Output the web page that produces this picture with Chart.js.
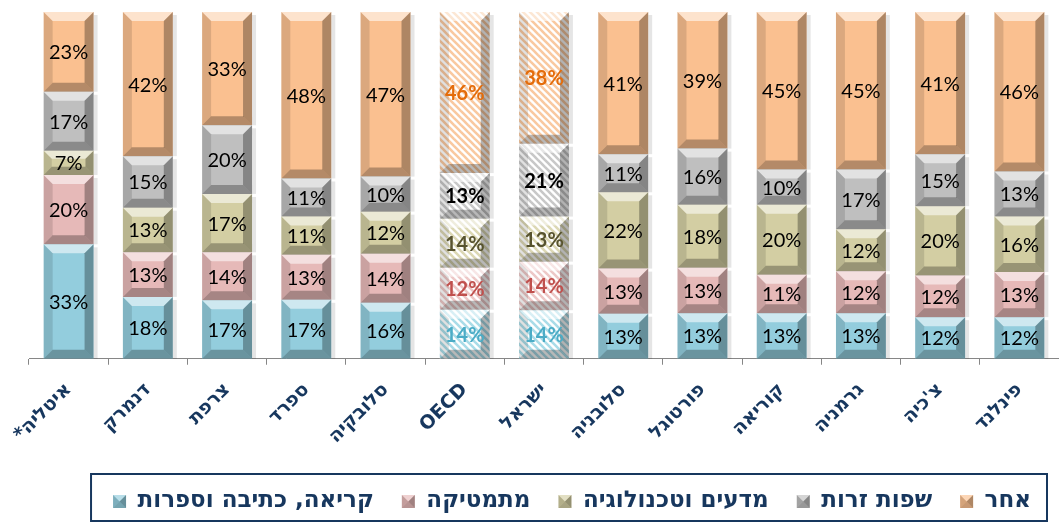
<!DOCTYPE html>
<html>
<head>
<meta charset="utf-8">
<style>
  html, body { margin: 0; padding: 0; background: #ffffff; }
</style>
<script src="https://cdn.jsdelivr.net/npm/chart.js"></script>
</head>
<body>
<canvas id="chart" width="1059" height="523"></canvas>
<script>
// categories, left to right
var countries = ['איטליה*', 'דנמרק', 'צרפת', 'ספרד', 'סלובקיה', 'OECD', 'ישראל',
                 'סלובניה', 'פורטוגל', 'קוריאה', 'גרמניה', "צ'כיה", 'פינלנד'];
var seriesNames = ['קריאה, כתיבה וספרות', 'מתמטיקה', 'מדעים וטכנולוגיה', 'שפות זרות', 'אחר'];

// percent values, bottom segment to top segment
var reading   = [33, 18, 17, 17, 16, 14, 14, 13, 13, 13, 13, 12, 12];
var maths     = [20, 13, 14, 13, 14, 12, 14, 13, 13, 11, 12, 12, 13];
var science   = [7, 13, 17, 11, 12, 14, 13, 22, 18, 20, 12, 20, 16];
var languages = [17, 15, 20, 11, 10, 13, 21, 11, 16, 10, 17, 15, 13];
var other     = [23, 42, 33, 48, 47, 46, 38, 41, 39, 45, 45, 41, 46];

var highlighted = ['OECD', 'ישראל'];

var fills = ['#93CDDD', '#E6B9B8', '#D3CEA3', '#BFBFBF', '#FAC090'];
var hatchInk = ['#A9DCE8', '#EDC8C7', '#DCD8B4', '#C8C8C8', '#F9C9A0'];
var hlText = ['#4BACC6', '#C0504D', '#57532F', '#000000', '#E46C0A'];
var navy = '#17375E';
var hebFont = '"DejaVu Sans", sans-serif';

var allSeries = [reading, maths, science, languages, other];

// each bar is a 100% stack, so scale each value by its bar total
var totals = countries.map(function (c, i) {
    var s = 0;
    for (var k = 0; k < allSeries.length; k++) s += allSeries[k][i];
    return s;
});

function makeHatch(color) {
    var c = document.createElement('canvas');
    c.width = 7; c.height = 7;
    var x = c.getContext('2d');
    x.fillStyle = '#ffffff';
    x.fillRect(0, 0, 7, 7);
    x.strokeStyle = color;
    x.lineWidth = 2.6;
    for (var k = -7; k <= 7; k += 7) {
        x.beginPath();
        x.moveTo(k - 1, -1);
        x.lineTo(k + 8, 8);
        x.stroke();
    }
    return x.createPattern(c, 'repeat');
}
var hatches = hatchInk.map(makeHatch);

var datasets = allSeries.map(function (vals, k) {
    return {
        label: seriesNames[k],
        data: vals.map(function (v, i) { return v / totals[i] * 100; }),
        raw: vals,
        backgroundColor: function (ctx) {
            if (ctx.dataIndex === undefined) return fills[k];
            if (highlighted.indexOf(countries[ctx.dataIndex]) >= 0) return hatches[k];
            return fills[k];
        },
        borderWidth: 0
    };
});

function poly(ctx, pts, col) {
    ctx.beginPath();
    ctx.moveTo(pts[0][0], pts[0][1]);
    for (var p = 1; p < pts.length; p++) ctx.lineTo(pts[p][0], pts[p][1]);
    ctx.closePath();
    ctx.fillStyle = col;
    ctx.fill();
}

// bevel look of the bars, plus the value labels
var barDecor = {
    id: 'barDecor',
    beforeDatasetsDraw: function (chart) {
        // soft shadow right of each bar
        var ctx = chart.ctx;
        ctx.save();
        chart.data.datasets.forEach(function (ds, k) {
            chart.getDatasetMeta(k).data.forEach(function (el) {
                var top = Math.min(el.y, el.base), bot = Math.max(el.y, el.base);
                ctx.fillStyle = 'rgba(0,0,0,0.10)';
                ctx.fillRect(el.x + el.width / 2, top + 3, 4, bot - top - 3);
            });
        });
        ctx.restore();
    },
    afterDatasetsDraw: function (chart) {
        var ctx = chart.ctx;
        ctx.save();
        chart.data.datasets.forEach(function (ds, k) {
            var meta = chart.getDatasetMeta(k);
            meta.data.forEach(function (el, i) {
                var x0 = el.x - el.width / 2, x1 = el.x + el.width / 2;
                var top = Math.min(el.y, el.base), bot = Math.max(el.y, el.base);
                var b = Math.min(9, (bot - top) / 3);
                poly(ctx, [[x0, top], [x1, top], [x1 - b, top + b], [x0 + b, top + b]], 'rgba(255,255,255,0.55)');
                poly(ctx, [[x0, bot], [x1, bot], [x1 - b, bot - b], [x0 + b, bot - b]], 'rgba(0,0,0,0.28)');
                poly(ctx, [[x0, top], [x0 + b, top + b], [x0 + b, bot - b], [x0, bot]], 'rgba(0,0,0,0.12)');
                poly(ctx, [[x1, top], [x1 - b, top + b], [x1 - b, bot - b], [x1, bot]], 'rgba(0,0,0,0.30)');

                var hl = highlighted.indexOf(countries[i]) >= 0;
                ctx.fillStyle = hl ? hlText[k] : '#000000';
                ctx.font = (hl ? 'bold ' : '') + '20px Lato, "Open Sans", sans-serif';
                ctx.textAlign = 'center';
                ctx.textBaseline = 'middle';
                ctx.fillText(ds.raw[i] + '%', el.x, (top + bot) / 2 + 1);
            });
        });
        ctx.restore();
    },
    afterDraw: function (chart) {
        var boxes = chart.legend.legendHitBoxes;
        if (!boxes || !boxes.length) return;
        var ctx = chart.ctx;
        var l = Infinity, r = -Infinity, t = Infinity;
        ctx.save();
        boxes.forEach(function (h) {
            l = Math.min(l, h.left); r = Math.max(r, h.left + h.width);
            t = Math.min(t, h.top);
            // pyramid shading on the legend swatch
            var bx = h.left, by = h.top + (h.height - 13) / 2, s = 13, c = s / 2;
            poly(ctx, [[bx, by], [bx + s, by], [bx + c, by + c]], 'rgba(255,255,255,0.35)');
            poly(ctx, [[bx + s, by], [bx + s, by + s], [bx + c, by + c]], 'rgba(0,0,0,0.30)');
            poly(ctx, [[bx, by + s], [bx + s, by + s], [bx + c, by + c]], 'rgba(0,0,0,0.20)');
            poly(ctx, [[bx, by], [bx, by + s], [bx + c, by + c]], 'rgba(0,0,0,0.15)');
        });
        ctx.strokeStyle = navy;
        ctx.lineWidth = 2;
        ctx.strokeRect(l - 22, t - 16, (r - l) + 38, 47);
        ctx.restore();
    }
};

new Chart(document.getElementById('chart').getContext('2d'), {
    type: 'bar',
    data: { labels: countries, datasets: datasets },
    plugins: [barDecor],
    options: {
        responsive: false,
        animation: false,
        layout: { padding: { top: 12, left: 29, right: 0, bottom: 0 } },
        datasets: { bar: { categoryPercentage: 1, barPercentage: 0.63 } },
        scales: {
            x: {
                stacked: true,
                border: { color: '#868686', width: 1 },
                grid: { display: true, drawOnChartArea: false, offset: true, color: '#868686', tickLength: 6 },
                ticks: {
                    minRotation: 45, maxRotation: 45, autoSkip: false, padding: 14,
                    color: navy,
                    font: { family: hebFont, size: 19, weight: 'bold' },
                    callback: function (v, i) { return countries[i] + '\u200F'; }
                }
            },
            y: { stacked: true, display: false, min: 0, max: 100 }
        },
        plugins: {
            legend: {
                position: 'bottom',
                align: 'end',
                labels: {
                    boxWidth: 13, boxHeight: 13, padding: 28,
                    color: navy,
                    font: { family: hebFont, size: 23, weight: 'bold' }
                }
            },
            tooltip: { enabled: false }
        }
    }
});
</script>
</body>
</html>
